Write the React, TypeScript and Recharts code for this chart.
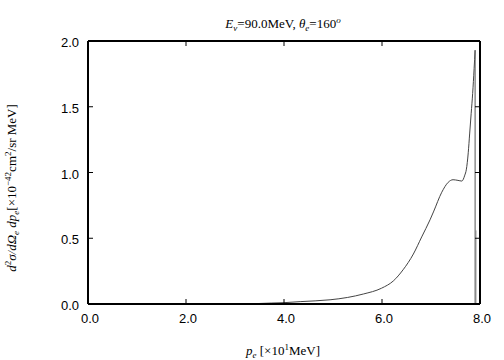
import React from "react";
import {
  LineChart,
  Line,
  XAxis,
  YAxis,
  Customized,
} from "recharts";

// momentum p_e in units of 10 MeV, cross section in 1e-42 cm^2/sr MeV
const pe = [
  3.4, 3.5, 4.0, 4.33, 4.94, 5.3, 5.62, 5.99, 6.23, 6.43, 6.64, 6.81, 6.98,
  7.05, 7.22, 7.35, 7.45, 7.55, 7.63, 7.69, 7.72, 7.76, 7.79, 7.82, 7.85,
  7.88, 7.9,
];
const sigma = [
  0.0, 0.004, 0.01, 0.018, 0.032, 0.05, 0.076, 0.12, 0.175, 0.26, 0.38, 0.51,
  0.64, 0.7, 0.85, 0.925, 0.945, 0.94, 0.935, 0.98, 1.02, 1.15, 1.3, 1.45,
  1.6, 1.79, 1.93,
];

// endpoint drop and the small grey spike at the kinematic limit
const dropX = [7.9, 7.9];
const dropY = [1.93, 0.0];
const spikeX = [7.92, 7.92];
const spikeY = [0.0, 0.56];

const xTicks = [0, 2, 4, 6, 8];
const yTicks = [0, 0.5, 1, 1.5, 2];

const curve = pe.map((x, i) => ({ x, y: sigma[i] }));
const drop = dropX.map((x, i) => ({ x, y: dropY[i] }));
const spike = spikeX.map((x, i) => ({ x, y: spikeY[i] }));

const tickFont = { fontFamily: "Liberation Sans, Arial, sans-serif", fontSize: 13 };
const serif = "Liberation Serif, Times New Roman, serif";

const inner = (v: number, lo: number, hi: number) => v > lo && v < hi;

const BottomTick = (props: any) => {
  const { x, y, payload } = props;
  return (
    <g>
      {inner(payload.value, 0, 8) && <line x1={x} y1={y} x2={x} y2={y - 5} stroke="#000" />}
      <text x={x + 2} y={y + 19} textAnchor="middle" {...tickFont} fill="#000">
        {payload.value.toFixed(1)}
      </text>
    </g>
  );
};

const TopTick = (props: any) => {
  const { x, y, payload } = props;
  if (!inner(payload.value, 0, 8)) return <g />;
  return <line x1={x} y1={y} x2={x} y2={y + 5} stroke="#000" />;
};

const LeftTick = (props: any) => {
  const { x, y, payload } = props;
  return (
    <g>
      {inner(payload.value, 0, 2) && <line x1={x} y1={y} x2={x + 5} y2={y} stroke="#000" />}
      <text x={x - 9} y={y + 6} textAnchor="end" {...tickFont} fill="#000">
        {payload.value.toFixed(1)}
      </text>
    </g>
  );
};

const RightTick = (props: any) => {
  const { x, y, payload } = props;
  if (!inner(payload.value, 0, 2)) return <g />;
  return <line x1={x} y1={y} x2={x - 5} y2={y} stroke="#000" />;
};

const Labels = () => (
  <g fontFamily={serif} fill="#000">
    <text x={283} y={28} textAnchor="middle" fontSize={13}>
      <tspan fontStyle="italic">E</tspan>
      <tspan fontSize={9} dy={3} fontStyle="italic">ν</tspan>
      <tspan dy={-3}>=90.0MeV,  </tspan>
      <tspan fontStyle="italic">θ</tspan>
      <tspan fontSize={9} dy={3} fontStyle="italic">e</tspan>
      <tspan dy={-3}>=160</tspan>
      <tspan fontSize={9} dy={-5} fontStyle="italic">o</tspan>
    </text>
    <text x={283} y={355} textAnchor="middle" fontSize={13}>
      <tspan fontStyle="italic">p</tspan>
      <tspan fontSize={9} dy={3} fontStyle="italic">e</tspan>
      <tspan dy={-3}> [×10</tspan>
      <tspan fontSize={9} dy={-5}>1</tspan>
      <tspan dy={5}>MeV]</tspan>
    </text>
    <text
      x={16}
      y={188}
      textAnchor="middle"
      fontSize={13}
      transform="rotate(-90 16 188)"
    >
      <tspan fontStyle="italic">d</tspan>
      <tspan fontSize={9} dy={-5}>2</tspan>
      <tspan dy={5} fontStyle="italic">σ/dΩ</tspan>
      <tspan fontSize={9} dy={3} fontStyle="italic">e</tspan>
      <tspan dy={-3} fontStyle="italic"> dp</tspan>
      <tspan fontSize={9} dy={3} fontStyle="italic">e</tspan>
      <tspan dy={-3}>[×10</tspan>
      <tspan fontSize={9} dy={-5}>−42</tspan>
      <tspan dy={5}>cm</tspan>
      <tspan fontSize={9} dy={-5}>2</tspan>
      <tspan dy={5}>/sr MeV]</tspan>
    </text>
  </g>
);

const axisLine = { stroke: "#000", strokeWidth: 2 };

export default function App() {
  return (
    <div style={{ position: "absolute", left: 0, top: 0, background: "#fff" }}>
      <LineChart
        width={504}
        height={360}
        margin={{ top: 40, right: 23, bottom: 26, left: 28 }}
      >
        <XAxis
          xAxisId="b"
          dataKey="x"
          type="number"
          domain={[0, 8]}
          ticks={xTicks}
          height={30}
          tickLine={false}
          tickSize={0}
          tickMargin={0}
          axisLine={axisLine}
          tick={<BottomTick />}
          allowDataOverflow
        />
        <XAxis
          xAxisId="t"
          orientation="top"
          dataKey="x"
          type="number"
          domain={[0, 8]}
          ticks={xTicks}
          height={1}
          tickLine={false}
          tickSize={0}
          tickMargin={0}
          axisLine={axisLine}
          tick={<TopTick />}
          allowDataOverflow
        />
        <YAxis
          yAxisId="l"
          type="number"
          domain={[0, 2]}
          ticks={yTicks}
          width={60}
          tickLine={false}
          tickSize={0}
          tickMargin={0}
          axisLine={axisLine}
          tick={<LeftTick />}
          allowDataOverflow
        />
        <YAxis
          yAxisId="r"
          orientation="right"
          type="number"
          domain={[0, 2]}
          ticks={yTicks}
          width={1}
          tickLine={false}
          tickSize={0}
          tickMargin={0}
          axisLine={axisLine}
          tick={<RightTick />}
          allowDataOverflow
        />
        {/* invisible series so the top and right frame axes get drawn */}
        <Line
          xAxisId="t"
          yAxisId="r"
          data={curve}
          dataKey="y"
          stroke="none"
          dot={false}
          activeDot={false}
          isAnimationActive={false}
        />
        <Line
          xAxisId="b"
          yAxisId="l"
          data={spike}
          dataKey="y"
          type="linear"
          stroke="#aaa"
          strokeWidth={1}
          dot={false}
          isAnimationActive={false}
        />
        <Line
          xAxisId="b"
          yAxisId="l"
          data={curve}
          dataKey="y"
          type="monotone"
          stroke="#444"
          strokeWidth={1}
          dot={false}
          isAnimationActive={false}
        />
        <Line
          xAxisId="b"
          yAxisId="l"
          data={drop}
          dataKey="y"
          type="linear"
          stroke="#555"
          strokeWidth={1}
          dot={false}
          isAnimationActive={false}
        />
        <Customized component={<Labels />} />
      </LineChart>
    </div>
  );
}
